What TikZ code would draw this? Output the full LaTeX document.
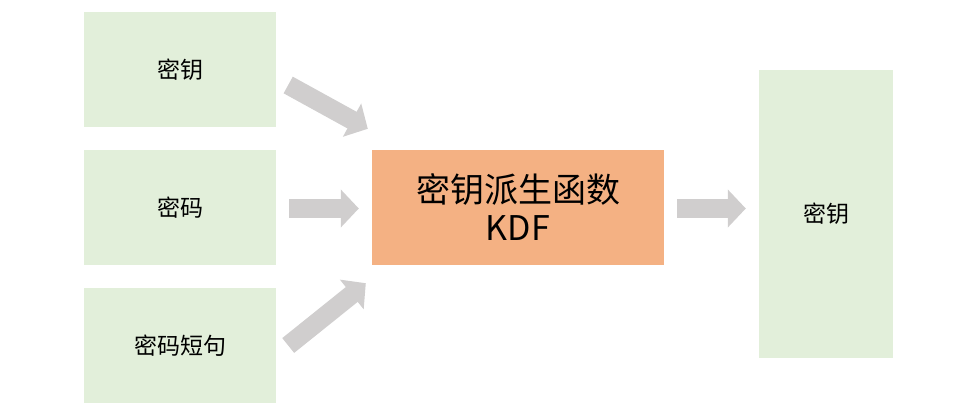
\documentclass[tikz,border=0pt]{standalone}
\usepackage{fontspec}
\newfontfamily\cjk{Noto Sans CJK SC}
\usetikzlibrary{arrows.meta}
\definecolor{hopxanh}{HTML}{E2EFDA}
\definecolor{hopcam}{HTML}{F4B183}
\definecolor{muiten}{HTML}{D0CECE}
\begin{document}
\begin{tikzpicture}[x=1pt, y=1pt, font=\cjk, line join=round,
	hop/.style={fill=hopxanh, draw=none, minimum width=192pt, minimum height=115pt, inner sep=0pt, font=\cjk\fontsize{23}{27}\selectfont},
	muiten/.style={draw=muiten, line width=19pt, -{Triangle[length=18pt, width=37pt]}}]
	\useasboundingbox (0,0) rectangle (974,415);
	\def\xtrai{180} % tâm các hộp bên trái
	\node[hop] (k1) at (\xtrai,345.5) {密钥};
	\node[hop] (k2) at (\xtrai,207.5) {密码};
	\node[hop] (k3) at (\xtrai,69.5) {密码短句};
	\node[fill=hopcam, minimum width=292pt, minimum height=115pt, inner sep=0pt, align=center,
		font=\cjk\fontsize{34}{38}\selectfont] (kdf) at (518,207.5) {密钥派生函数\\KDF};
	\node[hop, minimum width=134pt, minimum height=288pt] (out) at (826,201) {密钥};
	\draw[muiten] ([xshift=12pt, yshift=-15.5pt]k1.east) -- ([xshift=-4pt, yshift=21pt]kdf.north west);
	\draw[muiten] ([xshift=13pt, yshift=-1pt]k2.east) -- ([xshift=-13pt, yshift=-1pt]kdf.west);
	\draw[muiten] ([xshift=12pt]k3.east) -- ([xshift=-6pt, yshift=-18pt]kdf.south west);
	\draw[muiten] ([xshift=13pt, yshift=-1pt]kdf.east) -- ([xshift=-13pt, yshift=-1pt]kdf.east -| out.west);
\end{tikzpicture}
\end{document}
